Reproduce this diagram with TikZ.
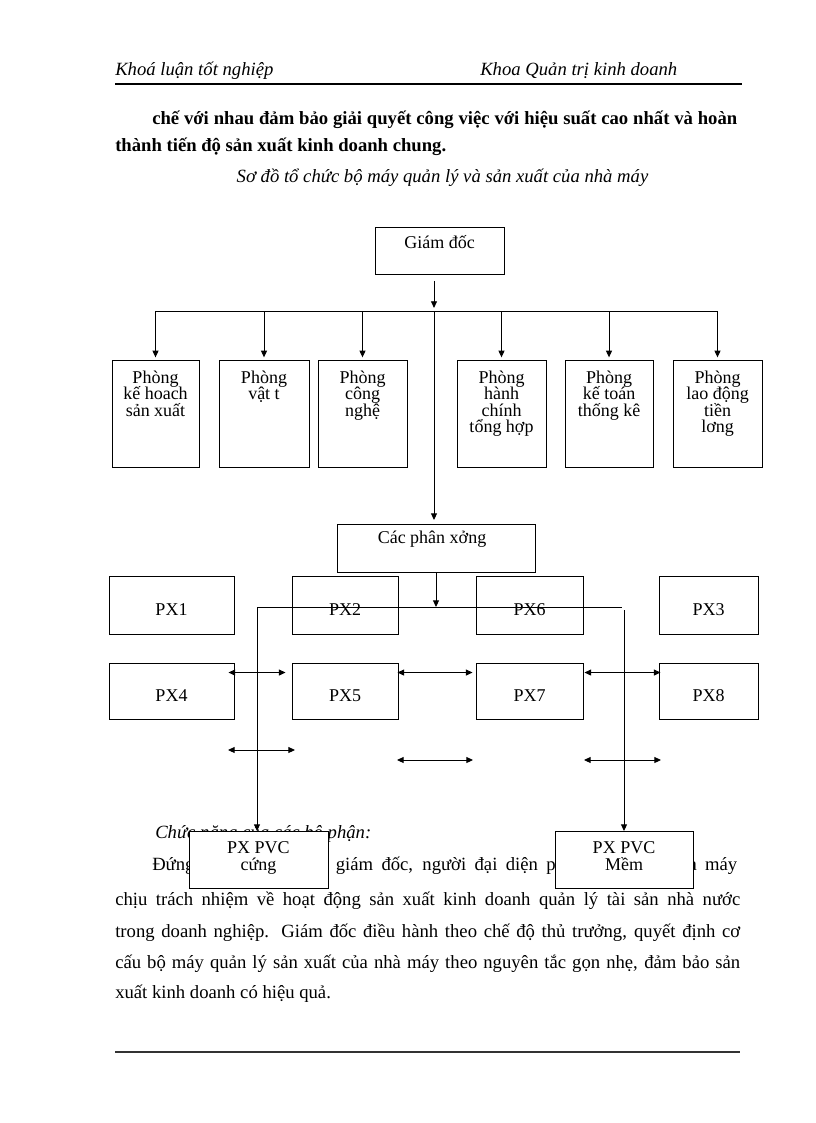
\documentclass[tikz,border=0pt]{standalone}
\usepackage{fontspec}
\setmainfont{Liberation Serif}
\usetikzlibrary{arrows.meta,calc}
\tikzset{
  arr/.style={-{Triangle[length=5pt,width=4.5pt]}, line width=0.7pt},
  dbl/.style={{Triangle[length=5pt,width=4.5pt]}-{Triangle[length=5pt,width=4.5pt]}, line width=0.7pt},
  ln/.style={line width=0.7pt},
  bx/.style={draw, line width=0.7pt, inner sep=0pt, fill=white},
  pxbox/.style={bx, minimum height=43.5pt, text height=15pt, text depth=0pt, font=\fontsize{13.5pt}{15pt}\selectfont},
  txt/.style={anchor=base west, inner sep=0pt},
  bodyfont/.style={font=\fontsize{14pt}{17pt}\selectfont},
  itfont/.style={font=\fontsize{14pt}{17pt}\selectfont\itshape},
  bdfont/.style={font=\fontsize{14pt}{17pt}\selectfont\bfseries},
}
\newcommand{\tbox}[5]{\begin{minipage}[t][#1][t]{#2}\centering\fontsize{13.5pt}{#4}\selectfont\lineskiplimit=-100pt\rule{0pt}{#3}#5\end{minipage}}
\begin{document}
\begin{tikzpicture}[x=0.75pt,y=-0.75pt]
\fill[white] (0,0) rectangle (816,1123);
\useasboundingbox (0,0) rectangle (816,1123);

% header
\node[txt, itfont] (h1) at (115,76) {Khoá luận tốt nghiệp};
\node[txt, itfont] (h2) at (480,76) {Khoa Quản trị kinh doanh};
\coordinate (hl1) at (115,84);
\coordinate (hl2) at (742,84);
\draw[line width=1.5pt] (hl1) -- (hl2);

% top paragraph
\node[txt, bdfont] (p1) at (152,125) {\makebox[438.75pt][s]{chế với nhau đảm bảo giải quyết công việc với hiệu suất cao nhất và hoàn}};
\node[txt, bdfont] (p2) at (115,152) {thành tiến độ sản xuất kinh doanh chung.};
\node[anchor=base, inner sep=0pt, itfont] (cap) at (442.5,183) {Sơ đồ tổ chức bộ máy quản lý và sản xuất của nhà máy};

% bottom paragraph
\node[txt, itfont] (q0) at (155,838) {Chức năng của các bộ phận:};
\node[txt, bodyfont] (q1) at (152,870) {\makebox[438.75pt][s]{Đứng đầu nhà máy là giám đốc, người đại diện pháp nhân của nhà máy}};
\node[txt, bodyfont] (q2) at (115,905) {\makebox[468.75pt][s]{chịu trách nhiệm về hoạt động sản xuất kinh doanh quản lý tài sản nhà nước}};
\node[txt, bodyfont] (q3) at (115,937) {\makebox[468.75pt][s]{trong doanh nghiệp. Giám đốc điều hành theo chế độ thủ trưởng, quyết định cơ}};
\node[txt, bodyfont] (q4) at (115,968) {\makebox[468.75pt][s]{cấu bộ máy quản lý sản xuất của nhà máy theo nguyên tắc gọn nhẹ, đảm bảo sản}};
\node[txt, bodyfont] (q5) at (115,998) {xuất kinh doanh có hiệu quả.};
\coordinate (fl1) at (115,1052);
\coordinate (fl2) at (740,1052);
\draw[line width=0.8pt, black!80] (fl1) -- (fl2);

% director
\node[bx, anchor=north] (gd) at (439.5,227) {\tbox{35.25pt}{96.75pt}{15.75pt}{14pt}{Giám đốc}};

% departments
\node[bx, anchor=north] (d1) at (155.5,360) {\tbox{80.25pt}{65.25pt}{17.25pt}{12.2pt}{Phòng\\kế hoach\\sản xuất}};
\node[bx, anchor=north] (d2) at (264,360) {\tbox{80.25pt}{67.5pt}{17.25pt}{12.2pt}{Phòng\\vật t}};
\node[bx, anchor=north] (d3) at (362.5,360) {\tbox{80.25pt}{66.75pt}{17.25pt}{12.2pt}{Phòng\\công\\nghệ}};
\node[bx, anchor=north] (d4) at (501.5,360) {\tbox{80.25pt}{66.75pt}{17.25pt}{12.2pt}{Phòng\\hành\\chính\\tổng hợp}};
\node[bx, anchor=north] (d5) at (609,360) {\tbox{80.25pt}{66pt}{17.25pt}{12.2pt}{Phòng\\kế toán\\thống kê}};
\node[bx, anchor=north] (d6) at (717.5,360) {\tbox{80.25pt}{66.75pt}{17.25pt}{12.2pt}{Phòng\\lao động\\tiền\\lơng}};

% workshops
\node[bx, anchor=north] (cpx) at (436,524) {\tbox{36pt}{148.5pt}{14.25pt}{14pt}{Các phân xởng\hspace*{6pt}}};

\node[pxbox, minimum width=93.75pt] (px1) at (171.5,605) {PX1};
\node[pxbox, minimum width=79.5pt] (px2) at (345,605) {PX2};
\node[pxbox, minimum width=80.25pt] (px6) at (529.5,605) {PX6};
\node[pxbox, minimum width=74.25pt] (px3) at (708.5,605) {PX3};
\node[pxbox, minimum width=93.75pt, minimum height=42pt] (px4) at (171.5,691) {PX4};
\node[pxbox, minimum width=79.5pt, minimum height=42pt] (px5) at (345,691) {PX5};
\node[pxbox, minimum width=80.25pt, minimum height=42pt] (px7) at (529.5,691) {PX7};
\node[pxbox, minimum width=74.25pt, minimum height=42pt] (px8) at (708.5,691) {PX8};

\node[bx, anchor=north] (pvc1) at (258.5,831) {\tbox{42.75pt}{104.25pt}{16.5pt}{12.75pt}{PX PVC\\cứng}};
\node[bx, anchor=north] (pvc2) at (624,831) {\tbox{42.75pt}{103.5pt}{16.5pt}{12.75pt}{PX PVC\\Mềm}};

% connectors top
\coordinate (bus) at (434,311);
\draw[arr] ($(gd.south)+(-5.5,6)$) -- ($(gd.south)+(-5.5,33)$);
\draw[ln] (d1.north |- bus) -- (d6.north |- bus);
\foreach \n in {d1,d2,d3,d4,d5,d6} \draw[arr, shorten >=2pt] (\n.north |- bus) -- (\n.north);
\draw[arr, shorten >=3pt] (bus) -- (bus |- cpx.north);

% connectors lower
\coordinate (bus2) at (436,607);
\draw[arr] (cpx.south) -- (bus2);
\coordinate (lb) at (257,607);
\coordinate (rb) at (622,607);
\draw[ln] (lb) -- (rb);
\draw[arr] (lb) -- (lb |- pvc1.north);
\coordinate (rt) at (624,610);
\draw[arr] (rt) -- (pvc2.north);

% double arrows
\draw[dbl] ($(px4.north east)+(-6,10)$) -- ($(px5.north west)+(-6,10)$);
\draw[dbl] ($(px5.north east)+(-1,10)$) -- ($(px7.north west)+(-3,10)$);
\draw[dbl] ($(px7.north east)+(1,10)$) -- ($(px8.north west)+(2,10)$);
\coordinate (a1) at (228,750); \coordinate (a2) at (295,750);
\coordinate (b1) at (397,760); \coordinate (b2) at (473,760);
\coordinate (c1) at (584,760); \coordinate (c2) at (661,760);
\draw[dbl] (a1) -- (a2);
\draw[dbl] (b1) -- (b2);
\draw[dbl] (c1) -- (c2);
\end{tikzpicture}
\end{document}
